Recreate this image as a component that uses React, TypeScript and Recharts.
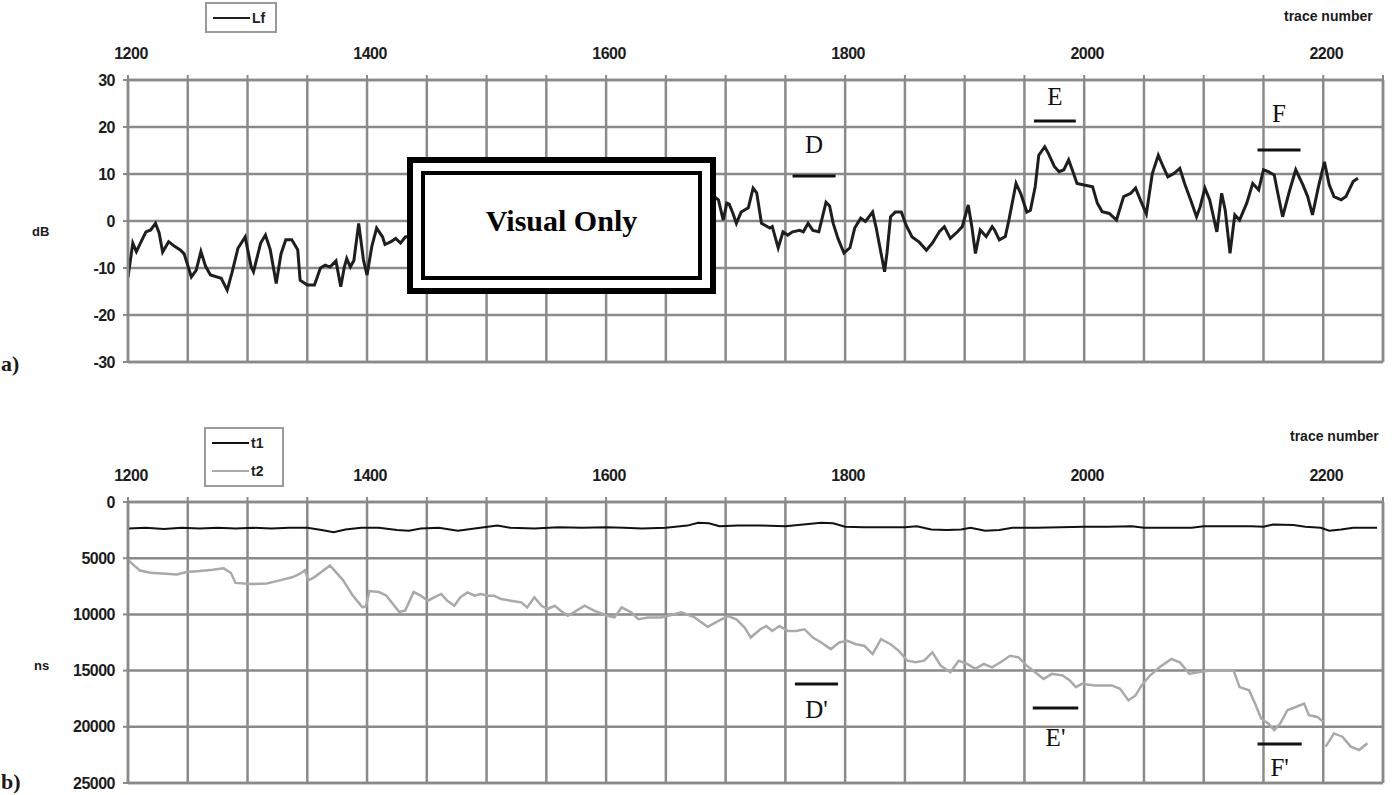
import React from 'react';
import { LineChart, Line, XAxis, YAxis, CartesianGrid, ReferenceLine, Legend } from 'recharts';

// ---------- axis ticks ----------
const xGridTicks = [1200, 1250, 1300, 1350, 1400, 1450, 1500, 1550, 1600, 1650, 1700, 1750, 1800, 1850, 1900, 1950, 2000, 2050, 2100, 2150, 2200, 2250];
const xLabelTicks = [1200, 1400, 1600, 1800, 2000, 2200];
const dbTicks = [-30, -20, -10, 0, 10, 20, 30];
const nsTicks = [0, 5000, 10000, 15000, 20000, 25000];

// ---------- panel a) : Lf (dB) ----------
const lfTrace = [
  1200, 1204, 1207, 1211, 1215, 1219, 1223, 1226, 1229, 1234, 1239, 1244, 1247, 1253, 1257, 1261, 1265, 1269, 1278, 1283,
  1287, 1292, 1298, 1303, 1305, 1311, 1315, 1319, 1324, 1328, 1332, 1337, 1342, 1344, 1350, 1356, 1361, 1365, 1369, 1374,
  1378, 1381, 1383, 1386, 1389, 1393, 1397, 1400, 1404, 1408, 1413, 1415, 1420, 1424, 1428, 1432,
  1692, 1694, 1698, 1701, 1703, 1706, 1709, 1713, 1719, 1723, 1726, 1730, 1737, 1739, 1744, 1748, 1752, 1756, 1762, 1765,
  1769, 1773, 1778, 1784, 1787, 1790, 1794, 1799, 1804, 1808, 1813, 1817, 1823, 1826, 1830, 1833, 1835, 1838, 1842, 1847,
  1851, 1856, 1862, 1868, 1873, 1879, 1883, 1888, 1894, 1898, 1903, 1906, 1909, 1913, 1918, 1923, 1925, 1929, 1934, 1937,
  1943, 1947, 1952, 1955, 1959, 1962, 1967, 1970, 1975, 1979, 1983, 1987, 1990, 1994, 2001, 2007, 2011, 2015, 2021, 2027,
  2033, 2039, 2043, 2047, 2052, 2057, 2062, 2066, 2070, 2075, 2080, 2084, 2089, 2094, 2097, 2101, 2105, 2111, 2115, 2118,
  2122, 2126, 2130, 2136, 2141, 2146, 2150, 2154, 2159, 2162, 2166, 2172, 2177, 2183, 2187, 2191, 2196, 2201, 2205, 2209,
  2215, 2219, 2225, 2229,
];
const lfDb = [
  -12, -4.7, -6.5, -4.4, -2.3, -1.9, -0.5, -2.5, -6.6, -4.4, -5.4, -6.2, -7, -11.9, -10.5, -6.5, -9.7, -11.5, -12.2, -14.7,
  -11, -5.8, -3.4, -9.7, -10.8, -4.7, -3, -6.1, -13.3, -7, -4, -4, -6.1, -12.6, -13.6, -13.6, -10, -9.4, -9.8, -8.5,
  -14, -9.8, -8, -9.8, -8.4, -0.5, -8.3, -11.5, -5.4, -1.5, -3.4, -5, -4.4, -3.7, -4.7, -3.4,
  4.9, 4.5, 0.2, 3.8, 3.6, 1.7, -0.5, 1.9, 2.8, 7, 6, -0.5, -1.5, -1.2, -5.7, -2.3, -3, -2.3, -2, -2.3,
  -0.5, -2, -2.3, 4, 3.2, -0.5, -3.7, -6.8, -5.7, -1.5, 0.6, -0.1, 1.9, -1.5, -6.8, -10.8, -6.8, 0.9, 1.9, 1.9,
  -0.9, -3.4, -4.5, -6.2, -4.7, -2.2, -1.2, -3.7, -2.3, -1.2, 3.4, -1.2, -6.9, -1.9, -3.3, -1.2, -1.9, -4, -3.3, 0.2,
  8, 5.8, 1.9, 2.3, 7.3, 14, 15.8, 14.4, 11.6, 10.5, 10.9, 13, 10.9, 8, 7.6, 7.3, 3.8, 2, 1.6, 0.2,
  5.2, 5.9, 7, 4.5, 1.5, 10.1, 14, 11.6, 9.4, 10.1, 11.2, 8, 4.5, 0.9, 3, 7, 4.5, -2.3, 5.9, 2.3,
  -6.9, 1.3, 0.2, 3.8, 8, 6.6, 10.9, 10.5, 9.8, 5.9, 0.9, 6.6, 10.9, 7.7, 5.2, 1.3, 7.3, 12.6, 7.7, 5.2,
  4.5, 5.2, 8.4, 9.1,
];

// ---------- panel b) : t1 / t2 (ns) ----------
const t1Trace = [
  1200, 1215, 1230, 1245, 1260, 1275, 1290, 1305, 1320, 1335, 1350, 1362, 1372, 1382, 1395, 1410, 1425, 1435, 1445, 1460,
  1476, 1490, 1509, 1520, 1540, 1560, 1580, 1600, 1615, 1630, 1650, 1668, 1677, 1686, 1695, 1710, 1730, 1750, 1765, 1780,
  1790, 1800, 1815, 1830, 1850, 1860, 1872, 1885, 1897, 1905, 1917, 1929, 1940, 1960, 1980, 2000, 2020, 2040, 2050, 2070,
  2090, 2100, 2120, 2140, 2150, 2158, 2175, 2185, 2198, 2205, 2215, 2225, 2245,
];
const t1Ns = [
  2350, 2300, 2400, 2300, 2350, 2300, 2350, 2300, 2350, 2300, 2300, 2500, 2700, 2450, 2300, 2300, 2500, 2550, 2350, 2300,
  2550, 2350, 2100, 2300, 2350, 2250, 2300, 2250, 2300, 2350, 2300, 2100, 1850, 1900, 2150, 2100, 2100, 2150, 2000, 1850,
  1900, 2200, 2250, 2250, 2250, 2150, 2450, 2500, 2450, 2300, 2550, 2500, 2300, 2300, 2250, 2200, 2200, 2150, 2300, 2300,
  2300, 2150, 2150, 2150, 2200, 2000, 2050, 2200, 2300, 2550, 2450, 2300, 2300,
];
const t2Trace = [
  1200, 1205, 1210, 1219, 1232, 1241, 1249, 1260, 1271, 1280, 1286, 1290, 1303, 1316, 1327, 1338, 1344, 1348, 1351, 1356,
  1369, 1380, 1388, 1396, 1399, 1402, 1410, 1416, 1427, 1432, 1439, 1445, 1451, 1456, 1462, 1467, 1473, 1478, 1484, 1490,
  1495, 1501, 1506, 1512, 1520, 1529, 1534, 1540, 1546, 1551, 1557, 1562, 1568, 1573, 1582, 1590, 1601, 1607, 1613, 1621,
  1627, 1635, 1646, 1652, 1663, 1674, 1685, 1694, 1702, 1709, 1716, 1721, 1729, 1734, 1739, 1745, 1752, 1759, 1766, 1773,
  1780, 1788, 1795, 1802, 1809, 1816, 1823, 1830, 1838, 1845, 1852, 1859, 1866, 1873, 1880, 1888, 1895, 1902, 1909, 1916,
  1923, 1930, 1938, 1945, 1952, 1959, 1966, 1973, 1982, 1988, 1993, 1998, 2009, 2023, 2030, 2037, 2043, 2048, 2055, 2063,
  2073, 2080, 2088, 2095, 2105, 2116, 2125, 2130, 2138, 2143, 2148, 2154, 2159, 2164, 2170, 2177, 2184, 2188, 2195, 2200,
  2201, 2202, 2209, 2216, 2223, 2230, 2237,
];
const t2Ns: (number | null)[] = [
  5150, 5640, 6100, 6300, 6380, 6440, 6230, 6140, 6020, 5900, 6300, 7200, 7300, 7250, 6970, 6680, 6380, 6080, 6970, 6680,
  5640, 6970, 8310, 9350, 9300, 7920, 8010, 8310, 9790, 9640, 8010, 8330, 8780, 8480, 8180, 8780, 9230, 8480, 8040, 8330,
  8180, 8330, 8330, 8630, 8780, 8930, 9380, 8480, 9230, 9520, 9230, 9670, 10120, 9820, 9230, 9670, 10120, 10270, 9380, 9820,
  10420, 10270, 10270, 10120, 9820, 10270, 11100, 10570, 10150, 10440, 11180, 12060, 11320, 11030, 11470, 11030, 11470, 11470, 11320, 12060,
  12500, 13090, 12500, 12350, 12650, 12790, 13530, 12210, 12650, 13240, 14120, 14260, 14120, 13380, 14560, 15150, 14120, 14410, 14850, 14410,
  14710, 14260, 13680, 13820, 14560, 15150, 15740, 15290, 15440, 15880, 16470, 16180, 16320, 16320, 16620, 17650, 17210, 16320, 15440, 14710,
  13970, 14260, 15290, 15150, 15000, 15000, 15000, 16470, 16760, 17940, 19260, 19710, 20290, 19710, 18530, 18240, 17940, 18970, 19120, 19560,
  null, 21760, 20590, 20880, 21760, 22060, 21470,
];

// ---------- interval markers ----------
const topMarkerNames = ['D', 'E', 'F'];
const topMarkerFrom = [1756, 1958, 2145];
const topMarkerTo = [1792, 1993, 2181];
const topMarkerLevel = [9.6, 21.3, 15.1];
const bottomMarkerNames = ["D'", "E'", "F'"];
const bottomMarkerFrom = [1758, 1957, 2145];
const bottomMarkerTo = [1794, 1995, 2182];
const bottomMarkerLevel = [16200, 18330, 21530];

const lfData = lfTrace.map((x, i) => ({ x, lf: lfDb[i] }));
const t1Data = t1Trace.map((x, i) => ({ x, t1: t1Ns[i] }));
const t2Data = t2Trace.map((x, i) => ({ x, t2: t2Ns[i] }));

const GRID = '#8a8a8a';
const SANS = '"Liberation Sans", Arial, sans-serif';
const SERIF = '"Liberation Serif", "Times New Roman", serif';
const tickFont = { fontFamily: SANS, fontSize: 16, fontWeight: 700, fill: '#1c1c1c', letterSpacing: -0.5 };
const labelSet = new Set(xLabelTicks);
const fmtX = (v: number) => (labelSet.has(v) ? String(v) : '');

const topLabelOffsets = [23, 16, 28];
const bottomLabelOffsets = [16, 20, 14];

const LegendBox = ({ payload, width, height }: any) => (
  <div
    style={{
      width,
      height,
      boxSizing: 'border-box',
      border: '2px solid #9a9a9a',
      background: '#fff',
      display: 'flex',
      flexDirection: 'column',
      justifyContent: 'space-around',
      padding: '0 6px',
      fontFamily: SANS,
      fontSize: 14,
      fontWeight: 700,
      color: '#222',
    }}
  >
    {(payload || []).map((p: any) => (
      <div key={p.value} style={{ display: 'flex', alignItems: 'center', height: 15 }}>
        <span style={{ display: 'inline-block', width: 37, borderTop: `2px solid ${p.color}`, marginRight: 2 }} />
        <span>{p.value}</span>
      </div>
    ))}
  </div>
);

const Txt = ({ left, top, size, weight, family, children }: any) => (
  <div
    style={{
      position: 'absolute',
      left,
      top,
      fontSize: size,
      fontWeight: weight,
      fontFamily: family,
      color: '#1a1a1a',
      whiteSpace: 'nowrap',
      lineHeight: 1,
    }}
  >
    {children}
  </div>
);

const xAxisProps = {
  dataKey: 'x',
  type: 'number' as const,
  orientation: 'top' as const,
  domain: [1200, 2250],
  ticks: xGridTicks,
  interval: 0 as const,
  tickFormatter: fmtX,
  height: 30,
  tick: { ...tickFont, dx: 3 },
  tickSize: 5,
  tickMargin: 16,
  tickLine: { stroke: GRID, strokeWidth: 2 },
  axisLine: { stroke: GRID, strokeWidth: 2.5 },
  allowDataOverflow: true,
};

export default function App() {
  return (
    <div style={{ position: 'absolute', left: 0, top: 0, width: 1400, height: 795, background: '#fff', overflow: 'hidden' }}>
      {/* ---------- a) ---------- */}
      <div style={{ position: 'absolute', left: 0, top: 0 }}>
        <LineChart width={1400} height={380} margin={{ top: 50, right: 17, bottom: 18, left: 0 }}>
          <CartesianGrid stroke={GRID} strokeWidth={2.5} />
          <XAxis {...xAxisProps} />
          <YAxis
            type="number"
            domain={[-30, 30]}
            ticks={dbTicks}
            interval={0}
            width={128}
            tick={tickFont}
            tickSize={5}
            tickMargin={8}
            tickLine={{ stroke: GRID, strokeWidth: 2 }}
            axisLine={{ stroke: GRID, strokeWidth: 2.5 }}
          />
          <ReferenceLine x={2250} stroke={GRID} strokeWidth={2.5} />
          <ReferenceLine y={-30} stroke={GRID} strokeWidth={2.5} />
          <Legend
            layout="horizontal"
            verticalAlign="middle"
            align="center"
            wrapperStyle={{ position: 'absolute', left: 205, top: 2, width: 72, height: 31 }}
            content={(p: any) => <LegendBox payload={p.payload} width={72} height={31} />}
          />
          <Line
            data={lfData}
            dataKey="lf"
            name="Lf"
            type="linear"
            stroke="#1e1e1e"
            strokeWidth={3}
            dot={false}
            isAnimationActive={false}
          />
          {topMarkerNames.map((n, i) => (
            <ReferenceLine
              key={n}
              segment={[
                { x: topMarkerFrom[i], y: topMarkerLevel[i] },
                { x: topMarkerTo[i], y: topMarkerLevel[i] },
              ]}
              stroke="#111"
              strokeWidth={3}
              ifOverflow="visible"
              label={{ value: n, position: 'top', offset: topLabelOffsets[i], fill: '#111', fontSize: 25, fontFamily: SERIF }}
            />
          ))}
        </LineChart>
      </div>

      {/* ---------- b) ---------- */}
      <div style={{ position: 'absolute', left: 0, top: 400 }}>
        <LineChart width={1400} height={395} margin={{ top: 72, right: 17, bottom: 12, left: 0 }}>
          <CartesianGrid stroke={GRID} strokeWidth={2.5} />
          <XAxis {...xAxisProps} />
          <YAxis
            type="number"
            domain={[0, 25000]}
            reversed
            ticks={nsTicks}
            interval={0}
            width={128}
            tick={tickFont}
            tickSize={5}
            tickMargin={8}
            tickLine={{ stroke: GRID, strokeWidth: 2 }}
            axisLine={{ stroke: GRID, strokeWidth: 2.5 }}
          />
          <ReferenceLine x={2250} stroke={GRID} strokeWidth={2.5} />
          <ReferenceLine y={25000} stroke={GRID} strokeWidth={2.5} />
          <Legend
            layout="horizontal"
            verticalAlign="middle"
            align="center"
            wrapperStyle={{ position: 'absolute', left: 204, top: 27, width: 80, height: 60 }}
            content={(p: any) => <LegendBox payload={p.payload} width={80} height={60} />}
          />
          <Line
            data={t1Data}
            dataKey="t1"
            name="t1"
            type="linear"
            stroke="#111"
            strokeWidth={2}
            dot={false}
            isAnimationActive={false}
          />
          <Line
            data={t2Data}
            dataKey="t2"
            name="t2"
            type="linear"
            stroke="#a9a9a9"
            strokeWidth={2.5}
            dot={false}
            connectNulls={false}
            isAnimationActive={false}
          />
          {bottomMarkerNames.map((n, i) => (
            <ReferenceLine
              key={n}
              segment={[
                { x: bottomMarkerFrom[i], y: bottomMarkerLevel[i] },
                { x: bottomMarkerTo[i], y: bottomMarkerLevel[i] },
              ]}
              stroke="#111"
              strokeWidth={3}
              ifOverflow="visible"
              label={{ value: n, position: 'bottom', offset: bottomLabelOffsets[i], fill: '#111', fontSize: 25, fontFamily: SERIF }}
            />
          ))}
        </LineChart>
      </div>

      {/* ---------- loose texts ---------- */}
      <Txt left={1284} top={9} size={14} weight={700} family={SANS}>trace number</Txt>
      <Txt left={1290} top={429} size={14} weight={700} family={SANS}>trace number</Txt>
      <Txt left={32} top={225} size={13} weight={700} family={SANS}>dB</Txt>
      <Txt left={34} top={659} size={13} weight={700} family={SANS}>ns</Txt>
      <Txt left={1} top={353} size={22} weight={700} family={SERIF}>a)</Txt>
      <Txt left={1} top={771} size={22} weight={700} family={SERIF}>b)</Txt>

      {/* ---------- "Visual Only" stamp ---------- */}
      <div
        style={{
          position: 'absolute',
          left: 407,
          top: 157,
          width: 309,
          height: 137,
          boxSizing: 'border-box',
          border: '6px solid #000',
          background: '#fff',
        }}
      >
        <div
          style={{
            position: 'absolute',
            left: 8,
            top: 8,
            right: 8,
            bottom: 8,
            border: '4px solid #000',
            display: 'flex',
            alignItems: 'center',
            justifyContent: 'center',
            paddingBottom: 10,
            boxSizing: 'border-box',
            fontFamily: SERIF,
            fontWeight: 700,
            fontSize: 30,
            color: '#000',
          }}
        >
          Visual Only
        </div>
      </div>
    </div>
  );
}
